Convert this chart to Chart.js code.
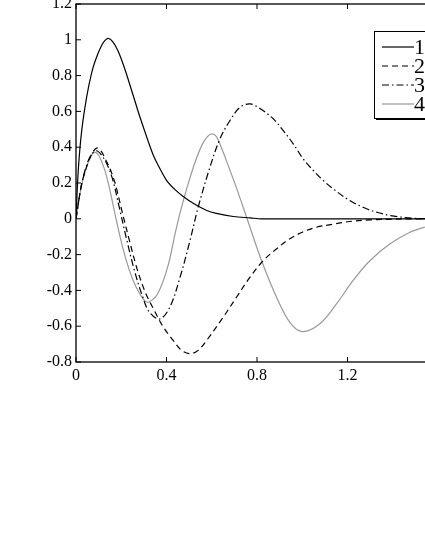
<!DOCTYPE html>
<html>
<head>
<meta charset="utf-8">
<title>Curves</title>
<script src="https://cdn.jsdelivr.net/npm/chart.js@4"></script>
<style>
    html, body { margin: 0; padding: 0; background: #fff; overflow: hidden; width: 425px; height: 550px; }
    #chart-container { position: absolute; left: 0; top: -20px; width: 460px; height: 412px; }
</style>
</head>
<body>
<div id="chart-container"><canvas id="lineChart" width="460" height="412"></canvas></div>
<script>
// Tick labels
var xTicks = [0, 0.4, 0.8, 1.2, 1.6];
var yTicks = [-0.8, -0.6, -0.4, -0.2, 0, 0.2, 0.4, 0.6, 0.8, 1, 1.2];
var seriesLabels = ["1", "2", "3", "4"];

// Curve 1 (solid black)
var curve1X = [0, 0.01, 0.025, 0.047, 0.07, 0.09, 0.11, 0.127, 0.143, 0.162, 0.185, 0.215, 0.25, 0.283, 0.32, 0.345, 0.371, 0.40, 0.44, 0.474, 0.52, 0.578, 0.62, 0.695, 0.77, 0.82, 0.9, 1.0, 1.2, 1.4, 1.6];
var curve1Y = [0, 0.27, 0.49, 0.68, 0.82, 0.9, 0.96, 0.995, 1.008, 0.99, 0.94, 0.84, 0.70, 0.567, 0.43, 0.345, 0.28, 0.215, 0.16, 0.125, 0.085, 0.046, 0.03, 0.013, 0.005, 0, 0, 0, 0, 0, 0];

// Curve 2 (dashed black)
var curve2X = [0, 0.025, 0.047, 0.069, 0.091, 0.11, 0.135, 0.147, 0.165, 0.177, 0.206, 0.236, 0.272, 0.309, 0.346, 0.386, 0.43, 0.467, 0.505, 0.54, 0.577, 0.651, 0.71, 0.769, 0.828, 0.887, 0.938, 1.0, 1.063, 1.137, 1.21, 1.3, 1.4, 1.5, 1.6];
var curve2Y = [0, 0.195, 0.29, 0.36, 0.395, 0.38, 0.32, 0.29, 0.23, 0.18, 0.028, -0.121, -0.288, -0.419, -0.512, -0.605, -0.68, -0.735, -0.753, -0.735, -0.68, -0.549, -0.437, -0.326, -0.233, -0.167, -0.117, -0.075, -0.047, -0.03, -0.015, -0.006, -0.002, 0, 0];

// Curve 3 (dash-dot black)
var curve3X = [0, 0.022, 0.044, 0.066, 0.09, 0.11, 0.135, 0.162, 0.191, 0.221, 0.258, 0.295, 0.324, 0.37, 0.415, 0.46, 0.504, 0.54, 0.592, 0.636, 0.68, 0.725, 0.77, 0.82, 0.872, 0.916, 0.96, 1.004, 1.049, 1.093, 1.137, 1.21, 1.284, 1.329, 1.39, 1.49, 1.6];
var curve3Y = [0, 0.176, 0.288, 0.355, 0.38, 0.36, 0.31, 0.22, 0.065, -0.10, -0.288, -0.437, -0.52, -0.56, -0.493, -0.326, -0.121, 0.065, 0.288, 0.446, 0.548, 0.623, 0.642, 0.61, 0.558, 0.493, 0.419, 0.335, 0.27, 0.214, 0.167, 0.102, 0.056, 0.037, 0.018, 0.003, 0];

// Curve 4 (solid gray)
var curve4X = [0, 0.022, 0.044, 0.066, 0.081, 0.1, 0.125, 0.147, 0.177, 0.206, 0.236, 0.265, 0.302, 0.322, 0.361, 0.405, 0.442, 0.474, 0.504, 0.533, 0.56, 0.582, 0.60, 0.62, 0.645, 0.675, 0.71, 0.754, 0.82, 0.887, 0.946, 1.0, 1.078, 1.152, 1.225, 1.30, 1.388, 1.476, 1.54, 1.6];
var curve4Y = [0, 0.17, 0.28, 0.35, 0.372, 0.355, 0.28, 0.176, 0, -0.158, -0.288, -0.38, -0.456, -0.465, -0.419, -0.27, -0.06, 0.10, 0.23, 0.34, 0.42, 0.46, 0.474, 0.46, 0.39, 0.29, 0.17, 0.009, -0.233, -0.44, -0.58, -0.63, -0.586, -0.474, -0.344, -0.233, -0.14, -0.075, -0.047, -0.03];

var serifFont = "'Liberation Serif', 'Times New Roman', serif";

// Pair up x and y arrays into points for the linear x scale
function toPoints(xs, ys) {
    return xs.map(function (x, i) {
        return { x: x, y: ys[i] };
    });
}

function makeDataset(label, xs, ys, color, dash, width) {
    return {
        label: label,
        data: toPoints(xs, ys),
        borderColor: color,
        borderDash: dash,
        borderWidth: width,
        pointRadius: 0,
        fill: false,
        tension: 0.35
    };
}

// Box frame, inward ticks and MATLAB-like legend
var frameAndLegend = {
    id: "frameAndLegend",
    afterDraw: function (chart) {
        var ctx = chart.ctx;
        var area = chart.chartArea;
        var xs = chart.scales.x;
        var ys = chart.scales.y;
        ctx.save();
        ctx.setLineDash([]);
        ctx.strokeStyle = "#000";
        ctx.lineWidth = 1.3;
        ctx.strokeRect(area.left, area.top, area.right - area.left, area.bottom - area.top);

        ctx.lineWidth = 1;
        ctx.beginPath();
        xTicks.forEach(function (v) {
            var px = xs.getPixelForValue(v);
            ctx.moveTo(px, area.bottom);
            ctx.lineTo(px, area.bottom - 5);
            ctx.moveTo(px, area.top);
            ctx.lineTo(px, area.top + 5);
        });
        yTicks.forEach(function (v) {
            var py = ys.getPixelForValue(v);
            ctx.moveTo(area.left, py);
            ctx.lineTo(area.left + 5, py);
            ctx.moveTo(area.right, py);
            ctx.lineTo(area.right - 5, py);
        });
        ctx.stroke();

        // legend box with shadow
        var bx = area.left + 298;
        var by = area.top + 27;
        var bw = 70;
        var bh = 87;
        ctx.fillStyle = "#000";
        ctx.fillRect(bx + 2, by + 2, bw, bh);
        ctx.fillStyle = "#fff";
        ctx.fillRect(bx, by, bw, bh);
        ctx.strokeRect(bx + 0.5, by + 0.5, bw, bh);

        ctx.font = "22px " + serifFont;
        ctx.textBaseline = "middle";
        chart.data.datasets.forEach(function (ds, i) {
            var ly = by + 16 + i * 19;
            ctx.strokeStyle = ds.borderColor;
            ctx.lineWidth = ds.borderWidth;
            ctx.setLineDash(ds.borderDash);
            ctx.beginPath();
            ctx.moveTo(bx + 8, ly);
            ctx.lineTo(bx + 40, ly);
            ctx.stroke();
            ctx.setLineDash([]);
            ctx.fillStyle = "#000";
            ctx.fillText(ds.label, bx + 40, ly + 1);
        });
        ctx.restore();
    }
};

var ctx = document.getElementById("lineChart").getContext("2d");

new Chart(ctx, {
    type: "line",
    data: {
        datasets: [
            makeDataset(seriesLabels[0], curve1X, curve1Y, "#000", [], 1.2),
            makeDataset(seriesLabels[1], curve2X, curve2Y, "#000", [6, 4], 1.2),
            makeDataset(seriesLabels[2], curve3X, curve3Y, "#000", [7, 3, 1.5, 3], 1.2),
            makeDataset(seriesLabels[3], curve4X, curve4Y, "#999", [], 1.2)
        ]
    },
    options: {
        responsive: false,
        animation: false,
        layout: {
            padding: { left: 0, right: 22, top: 24, bottom: 0 }
        },
        plugins: {
            legend: { display: false },
            tooltip: { enabled: false }
        },
        scales: {
            x: {
                type: "linear",
                min: 0,
                max: 1.6,
                afterBuildTicks: function (scale) {
                    scale.ticks = xTicks.map(function (v) { return { value: v }; });
                },
                afterFit: function (scale) {
                    scale.height = 30;
                },
                grid: { display: false, drawTicks: false },
                border: { display: false },
                ticks: {
                    color: "#000",
                    padding: 4,
                    maxRotation: 0,
                    font: { family: serifFont, size: 16 },
                    callback: function (v) { return String(v); }
                }
            },
            y: {
                type: "linear",
                min: -0.8,
                max: 1.2,
                afterBuildTicks: function (scale) {
                    scale.ticks = yTicks.map(function (v) { return { value: v }; });
                },
                afterFit: function (scale) {
                    scale.width = 76;
                },
                grid: { display: false, drawTicks: false },
                border: { display: false },
                ticks: {
                    color: "#000",
                    padding: 4,
                    font: { family: serifFont, size: 16 },
                    callback: function (v) { return String(v); }
                }
            }
        }
    },
    plugins: [frameAndLegend]
});
</script>
</body>
</html>
